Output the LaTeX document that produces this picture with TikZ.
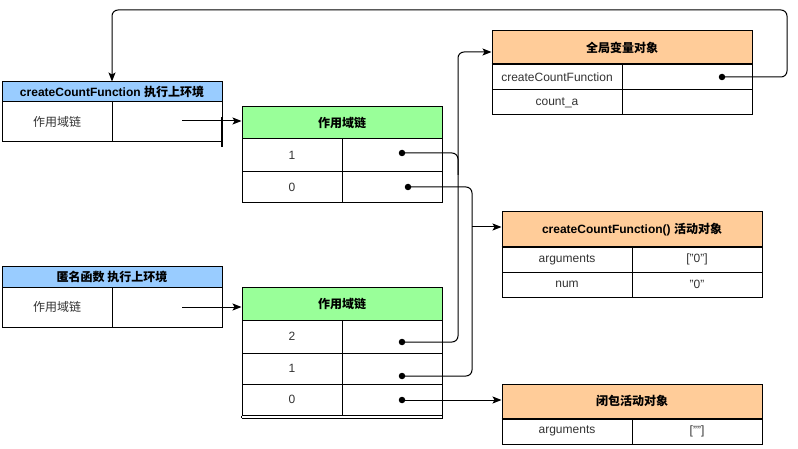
\documentclass[tikz,border=0pt]{standalone}
\usepackage{fontspec}
\setmainfont{Liberation Sans}
\newfontfamily\cjk{Noto Sans CJK SC}
\usetikzlibrary{arrows.meta}
\definecolor{hblue}{HTML}{99CCFF}
\definecolor{hgreen}{HTML}{99FF99}
\definecolor{horange}{HTML}{FFCC99}
\definecolor{txtgray}{HTML}{333333}
\begin{document}
\begin{tikzpicture}[x=1pt,y=-1pt,
  cell/.style={draw=black, line width=1pt, inner sep=0pt, font=\fontsize{12pt}{14pt}\selectfont, text=txtgray},
  hcell/.style={cell, font=\fontsize{12pt}{14pt}\selectfont\bfseries, text=black},
  arr/.style={-{Stealth[length=9pt,width=7pt,inset=2pt]}, line width=1pt},
  wire/.style={line width=1pt, rounded corners=6pt},
  dot/.style={circle, fill=black, inner sep=0pt, minimum size=6.5pt}]
\useasboundingbox (0,0) rectangle (798,449);
\fill[white] (0,0) rectangle (798,449);

% createCountFunction execution context
\node[hcell, fill=hblue, minimum width=220pt, minimum height=20pt] (Ahead) at (112,92) {createCountFunction {\cjk 执行上环境}};
\node[cell, minimum width=110pt, minimum height=40pt] (Akey) at (57,122) {\cjk 作用域链};
\node[cell, minimum width=110pt, minimum height=40pt] (Aval) at (167,122) {};

% anonymous function execution context
\node[hcell, fill=hblue, minimum width=220pt, minimum height=20pt] (Bhead) at (112,277) {\cjk 匿名函数 执行上环境};
\node[cell, minimum width=110pt, minimum height=40pt] (Bkey) at (57,307) {\cjk 作用域链};
\node[cell, minimum width=110pt, minimum height=40pt] (Bval) at (167,307) {};

% scope chain 1
\node[hcell, fill=hgreen, minimum width=200pt, minimum height=32pt] (G1head) at (342,123) {\cjk 作用域链};
\node[cell, minimum width=100pt, minimum height=33pt] (G1k1) at (292,155.5) {1};
\node[cell, minimum width=100pt, minimum height=33pt] (G1v1) at (392,155.5) {};
\node[cell, minimum width=100pt, minimum height=31pt] (G1k0) at (292,187.5) {0};
\node[cell, minimum width=100pt, minimum height=31pt] (G1v0) at (392,187.5) {};

% scope chain 2
\node[hcell, fill=hgreen, minimum width=200pt, minimum height=33pt] (G2head) at (342,303.5) {\cjk 作用域链};
\node[cell, minimum width=100pt, minimum height=33pt] (G2k2) at (292,336.5) {2};
\node[cell, minimum width=100pt, minimum height=33pt] (G2v2) at (392,336.5) {};
\node[cell, minimum width=100pt, minimum height=31pt] (G2k1) at (292,368.5) {1};
\node[cell, minimum width=100pt, minimum height=31pt] (G2v1) at (392,368.5) {};
\node[cell, minimum width=100pt, minimum height=31pt] (G2k0) at (292,399.5) {0};
\node[cell, minimum width=100pt, minimum height=31pt] (G2v0) at (392,399.5) {};
\draw[line width=1pt] ([yshift=-2.5pt]G2k0.south west) -- ([yshift=-2.5pt]G2v0.south east);
\draw[line width=1pt] (G2k0.south west) -- ([yshift=-2.5pt]G2k0.south west);
\draw[line width=1pt] (G2v0.south east) -- ([yshift=-2.5pt]G2v0.south east);

% global variable object
\node[hcell, fill=horange, minimum width=260pt, minimum height=33pt] (GOhead) at (622,47.5) {\cjk 全局变量对象};
\node[cell, minimum width=130pt, minimum height=26pt] (GOk1) at (557,77) {createCountFunction};
\node[cell, minimum width=130pt, minimum height=26pt] (GOv1) at (687,77) {};
\node[cell, minimum width=130pt, minimum height=25pt] (GOk2) at (557,102.5) {count\_a};
\node[cell, minimum width=130pt, minimum height=25pt] (GOv2) at (687,102.5) {};
\draw[line width=2pt] (GOhead.south west) -- (GOhead.south east);

% createCountFunction activation object
\node[hcell, fill=horange, minimum width=260pt, minimum height=35pt] (AO1head) at (632,229.5) {createCountFunction() {\cjk 活动对象}};
\node[cell, minimum width=130pt, minimum height=25pt] (AO1k1) at (567,259.5) {arguments};
\node[cell, minimum width=130pt, minimum height=25pt] (AO1v1) at (697,259.5) {["0"]};
\node[cell, minimum width=130pt, minimum height=25pt] (AO1k2) at (567,284.5) {num};
\node[cell, minimum width=130pt, minimum height=25pt] (AO1v2) at (697,284.5) {"0"};
\draw[line width=2pt] (AO1head.south west) -- (AO1head.south east);

% closure activation object
\node[hcell, fill=horange, minimum width=260pt, minimum height=34pt] (AO2head) at (632,401) {\cjk 闭包活动对象};
\node[cell, minimum width=130pt, minimum height=26pt] (AO2k1) at (567,431) {arguments};
\node[cell, minimum width=130pt, minimum height=26pt] (AO2v1) at (697,431) {[""]};
\draw[line width=2pt] (AO2head.south west) -- (AO2head.south east);

% dots
\node[dot] (dGO) at (722,77) {};
\node[dot] (dG1a) at (402,153) {};
\node[dot] (dG1b) at (408,187) {};
\node[dot] (dG2a) at (402,342) {};
\node[dot] (dG2b) at (402,376) {};
\node[dot] (dG2c) at (402,400) {};

% helper coordinates
\coordinate (pA) at (182,121);
\coordinate (pB) at (182,307);
\coordinate (topR) at (787,10);
\coordinate (v1top) at (458,52);
\coordinate (v1mid) at (458,175);
\coordinate (v2bot) at (472,376);
\coordinate (v2br) at (472,227);

% connectors
\draw[line width=2.7pt] (222,117) -- (222,147);
\draw[arr] (pA) -- (pA -| G1head.west);
\draw[arr] (pB) -- (pB -| G2head.west);
\draw[arr, wire] (dGO.center) -| (topR) -| (Ahead.north);
\draw[arr, wire] (dG2a.center) -| (v1top) -- (v1top -| GOhead.west);
\draw[wire] (dG1a.center) -| (v1mid);
\draw[wire] (dG1b.center) -| (v2bot) -- (dG2b.center);
\draw[arr] (v2br) -- (v2br -| AO1head.west);
\draw[arr] (dG2c.center) -- (dG2c.center -| AO2head.west);
\end{tikzpicture}
\end{document}
